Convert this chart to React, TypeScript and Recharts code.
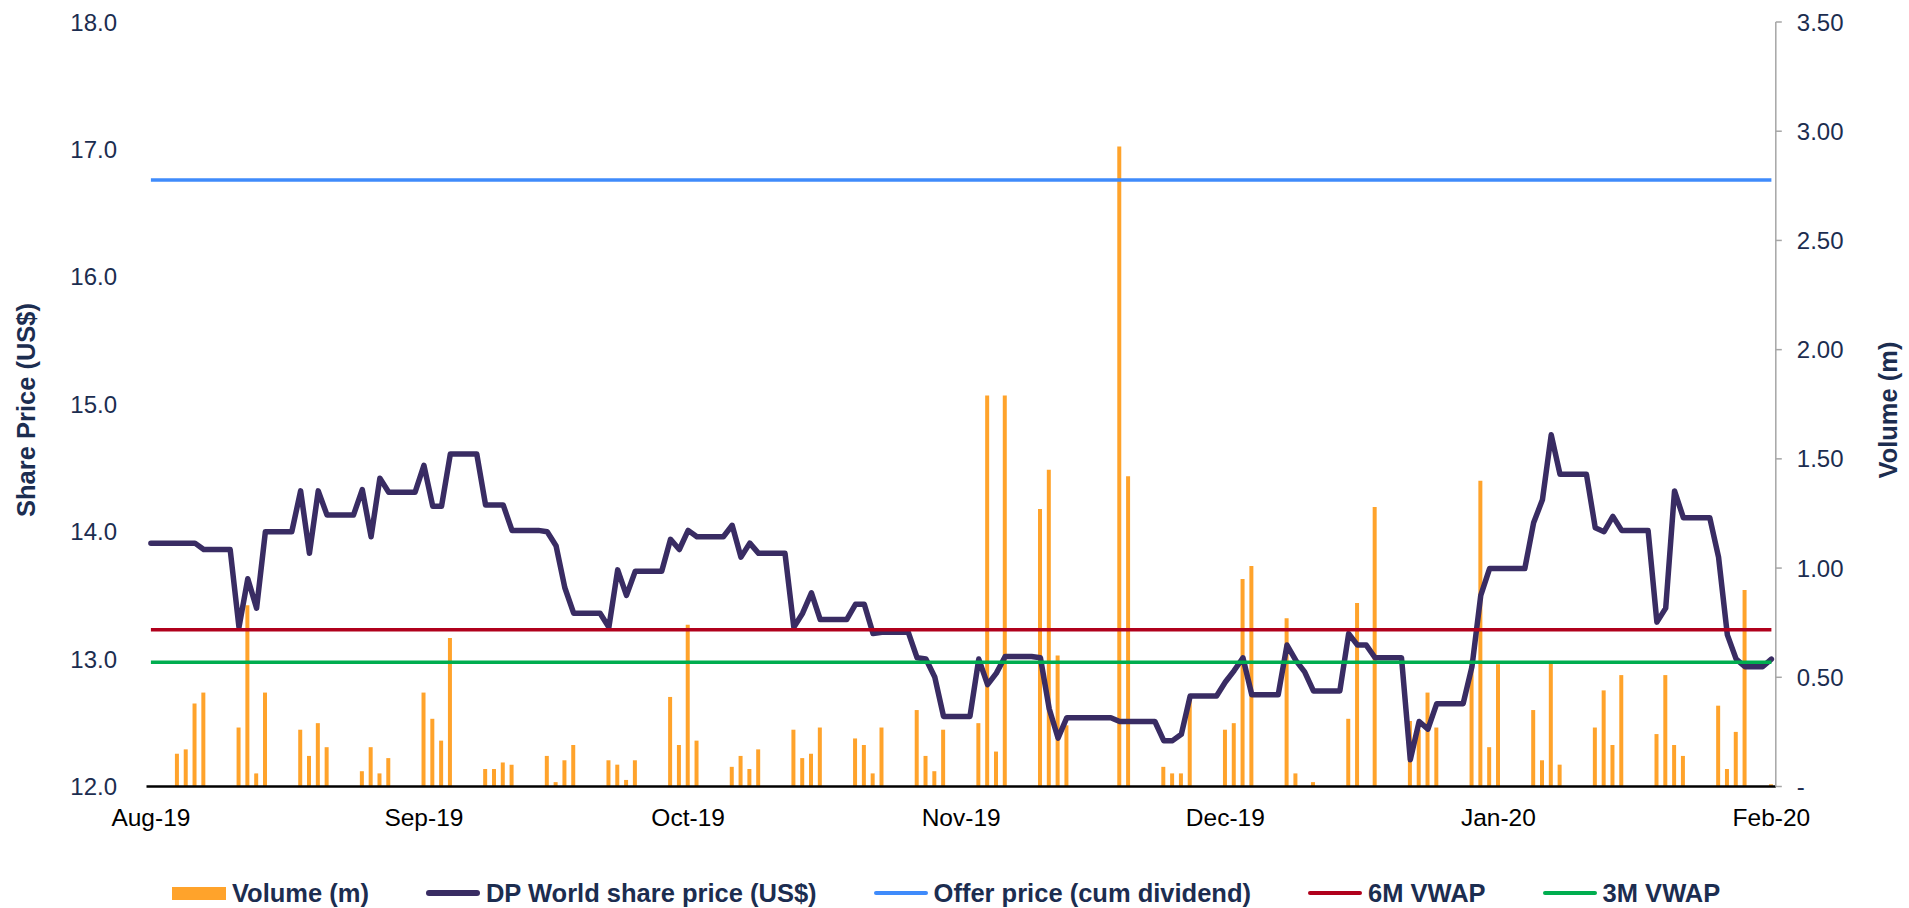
import React from "react";
import { ComposedChart, Bar, Line, XAxis, YAxis, Legend } from "recharts";

// day 0 = 1 Aug 2019, one entry per calendar day up to 1 Feb 2020
const MONTH_TICKS = [0, 31, 61, 92, 122, 153, 184];
const MONTH_LABELS = ["Aug-19", "Sep-19", "Oct-19", "Nov-19", "Dec-19", "Jan-20", "Feb-20"];
const PRICE_TICKS = [12, 13, 14, 15, 16, 17, 18];
const VOLUME_TICKS = [0, 0.5, 1, 1.5, 2, 2.5, 3, 3.5];

const OFFER_PRICE = 16.76;
const VWAP_6M = 13.23;
const VWAP_3M = 12.975;

const SHARE_PRICE = [
  13.91, 13.91, 13.91, 13.91, 13.91, 13.91, 13.86, 13.86, 13.86, 13.86,
  13.25, 13.63, 13.4, 14.0, 14.0, 14.0, 14.0,
  14.32, 13.83, 14.32, 14.13, 14.13, 14.13, 14.13,
  14.33, 13.96, 14.42, 14.31, 14.31, 14.31, 14.31,
  14.52, 14.2, 14.2, 14.61, 14.61, 14.61, 14.61,
  14.21, 14.21, 14.21, 14.01, 14.01, 14.01, 14.01, 14.0,
  13.89, 13.56, 13.36, 13.36, 13.36, 13.36,
  13.25, 13.7, 13.5, 13.69, 13.69, 13.69, 13.69,
  13.94, 13.86, 14.01, 13.96, 13.96, 13.96, 13.96,
  14.05, 13.8, 13.91, 13.83, 13.83, 13.83, 13.83,
  13.25, 13.36, 13.52, 13.31, 13.31, 13.31, 13.31,
  13.43, 13.43, 13.2, 13.21, 13.21, 13.21, 13.21,
  13.01, 13.0, 12.86, 12.55, 12.55, 12.55, 12.55,
  13.0, 12.8, 12.89, 13.02, 13.02, 13.02, 13.02,
  13.01, 12.61, 12.38, 12.54, 12.54, 12.54, 12.54, 12.54, 12.54,
  12.51, 12.51, 12.51, 12.51, 12.51,
  12.36, 12.36, 12.41, 12.71, 12.71, 12.71, 12.71,
  12.82, 12.91, 13.01, 12.72, 12.72, 12.72, 12.72,
  13.11, 12.99, 12.9, 12.75, 12.75, 12.75, 12.75,
  13.2, 13.11, 13.11, 13.01, 13.01, 13.01, 13.01,
  12.21, 12.51, 12.45, 12.65, 12.65, 12.65, 12.65,
  12.94, 13.5, 13.71, 13.71, 13.71, 13.71, 13.71,
  14.07, 14.25, 14.76, 14.45, 14.45, 14.45, 14.45,
  14.03, 14.0, 14.12, 14.01, 14.01, 14.01, 14.01,
  13.29, 13.4, 14.32, 14.11, 14.11, 14.11, 14.11,
  13.8, 13.19, 13.0, 12.94, 12.94, 12.94, 13.0,
];

const VOLUME = [
  0, 0, 0, 0.15, 0.17, 0.38, 0.43,
  0, 0, 0, 0.27, 0.83, 0.06, 0.43,
  0, 0, 0, 0.26, 0.14, 0.29, 0.18,
  0, 0, 0, 0.07, 0.18, 0.06, 0.13,
  0, 0, 0, 0.43, 0.31, 0.21, 0.68,
  0, 0, 0, 0.08, 0.08, 0.11, 0.1,
  0, 0, 0, 0.14, 0.02, 0.12, 0.19,
  0, 0, 0, 0.12, 0.1, 0.03, 0.12,
  0, 0, 0, 0.41, 0.19, 0.74, 0.21,
  0, 0, 0, 0.09, 0.14, 0.08, 0.17,
  0, 0, 0, 0.26, 0.13, 0.15, 0.27,
  0, 0, 0, 0.22, 0.19, 0.06, 0.27,
  0, 0, 0, 0.35, 0.14, 0.07, 0.26,
  0, 0, 0, 0.29, 1.79, 0.16, 1.79,
  0, 0, 0, 1.27, 1.45, 0.6, 0.28,
  0, 0, 0, 0, 0, 2.93, 1.42,
  0, 0, 0, 0.09, 0.06, 0.06, 0.4,
  0, 0, 0, 0.26, 0.29, 0.95, 1.01,
  0, 0, 0, 0.77, 0.06, 0, 0.02,
  0, 0, 0, 0.31, 0.84, 0, 1.28,
  0, 0, 0, 0.3, 0.26, 0.43, 0.27,
  0, 0, 0, 0.58, 1.4, 0.18, 0.56,
  0, 0, 0, 0.35, 0.12, 0.57, 0.1,
  0, 0, 0, 0.27, 0.44, 0.19, 0.51,
  0, 0, 0, 0.24, 0.51, 0.19, 0.14,
  0, 0, 0, 0.37, 0.08, 0.25, 0.9,
  0, 0, 0.01,
];

const LEGEND_LABELS = [
  "Volume (m)",
  "DP World share price (US$)",
  "Offer price (cum dividend)",
  "6M VWAP",
  "3M VWAP",
];

const FONT = "'Liberation Sans', Arial, sans-serif";
const NAVY = "#1c2d50";
const BAR_COLOR = "#ffa32b";
const PRICE_COLOR = "#392c63";
const OFFER_COLOR = "#3f8bfb";
const VWAP6_COLOR = "#b0001c";
const VWAP3_COLOR = "#00ad4f";

const data = SHARE_PRICE.map((price, day) => ({
  day,
  price,
  volume: VOLUME[day],
  offer: OFFER_PRICE,
  vwap6m: VWAP_6M,
  vwap3m: VWAP_3M,
}));

const markers = [
  { color: BAR_COLOR, h: 13, r: 0 },
  { color: PRICE_COLOR, h: 6, r: 3 },
  { color: OFFER_COLOR, h: 4, r: 2 },
  { color: VWAP6_COLOR, h: 4, r: 2 },
  { color: VWAP3_COLOR, h: 4, r: 2 },
];

function ChartLegend() {
  return (
    <div
      style={{
        display: "flex",
        alignItems: "center",
        height: 40,
        paddingLeft: 172,
        fontFamily: FONT,
        fontWeight: 700,
        fontSize: 25.5,
        color: NAVY,
      }}
    >
      {LEGEND_LABELS.map((label, i) => (
        <div key={label} style={{ display: "flex", alignItems: "center", marginRight: 57 }}>
          <span
            style={{
              display: "inline-block",
              width: 54,
              height: markers[i].h,
              borderRadius: markers[i].r,
              background: markers[i].color,
            }}
          />
          <span style={{ marginLeft: 6, whiteSpace: "nowrap" }}>{label}</span>
        </div>
      ))}
    </div>
  );
}

const titleStyle = {
  fontFamily: FONT,
  fontWeight: 700,
  fontSize: 25.5,
  fill: NAVY,
};

export default function App() {
  return (
    <div style={{ position: "absolute", left: 0, top: 0, fontFamily: FONT }}>
      <ComposedChart
        width={1909}
        height={908}
        data={data}
        margin={{ top: 22, right: 0, bottom: 0, left: 0 }}
      >
        <XAxis
          dataKey="day"
          type="number"
          domain={[-0.5, 184.5]}
          ticks={MONTH_TICKS}
          interval={0}
          tickFormatter={(v: number) => MONTH_LABELS[MONTH_TICKS.indexOf(v)]}
          axisLine={{ stroke: "#000", strokeWidth: 2.5 }}
          tickLine={false}
          tickSize={0}
          tickMargin={22}
          height={121.5}
          tick={{ fill: "#000", fontSize: 24.5, fontFamily: FONT }}
        />
        <YAxis
          yAxisId="price"
          orientation="left"
          domain={[12, 18]}
          ticks={PRICE_TICKS}
          interval={0}
          tickFormatter={(v: number) => v.toFixed(1)}
          axisLine={false}
          tickLine={false}
          tickSize={0}
          tickMargin={29.5}
          width={146.5}
          tick={{ fill: NAVY, fontSize: 24, fontFamily: FONT }}
          label={{
            content: () => (
              <text
                x={25.5}
                y={410}
                transform="rotate(-90 25.5 410)"
                textAnchor="middle"
                dominantBaseline="central"
                style={titleStyle}
              >
                Share Price (US$)
              </text>
            ),
          }}
        />
        <YAxis
          yAxisId="vol"
          orientation="right"
          domain={[0, 3.5]}
          ticks={VOLUME_TICKS}
          interval={0}
          tickFormatter={(v: number) => (v === 0 ? "-" : v.toFixed(2))}
          axisLine={{ stroke: "#a6a6a6", strokeWidth: 1.5 }}
          tickLine={{ stroke: "#a6a6a6", strokeWidth: 1.5 }}
          tickSize={6}
          tickMargin={15}
          width={133.2}
          tick={{ fill: NAVY, fontSize: 24, fontFamily: FONT }}
          label={{
            content: () => (
              <text
                x={1888}
                y={410}
                transform="rotate(-90 1888 410)"
                textAnchor="middle"
                dominantBaseline="central"
                style={titleStyle}
              >
                Volume (m)
              </text>
            ),
          }}
        />
        <Legend
          layout="horizontal"
          verticalAlign="middle"
          align="center"
          wrapperStyle={{ left: 0, top: 873, width: 1909, height: 40 }}
          content={() => <ChartLegend />}
        />
        <Bar
          yAxisId="vol"
          dataKey="volume"
          fill={BAR_COLOR}
          barSize={4}
          isAnimationActive={false}
        />
        <Line
          yAxisId="price"
          dataKey="price"
          stroke={PRICE_COLOR}
          strokeWidth={5.5}
          strokeLinejoin="round"
          strokeLinecap="round"
          dot={false}
          activeDot={false}
          type="linear"
          isAnimationActive={false}
        />
        <Line
          yAxisId="price"
          dataKey="offer"
          stroke={OFFER_COLOR}
          strokeWidth={3.5}
          dot={false}
          activeDot={false}
          isAnimationActive={false}
        />
        <Line
          yAxisId="price"
          dataKey="vwap6m"
          stroke={VWAP6_COLOR}
          strokeWidth={3.5}
          dot={false}
          activeDot={false}
          isAnimationActive={false}
        />
        <Line
          yAxisId="price"
          dataKey="vwap3m"
          stroke={VWAP3_COLOR}
          strokeWidth={3.5}
          dot={false}
          activeDot={false}
          isAnimationActive={false}
        />
      </ComposedChart>
    </div>
  );
}
